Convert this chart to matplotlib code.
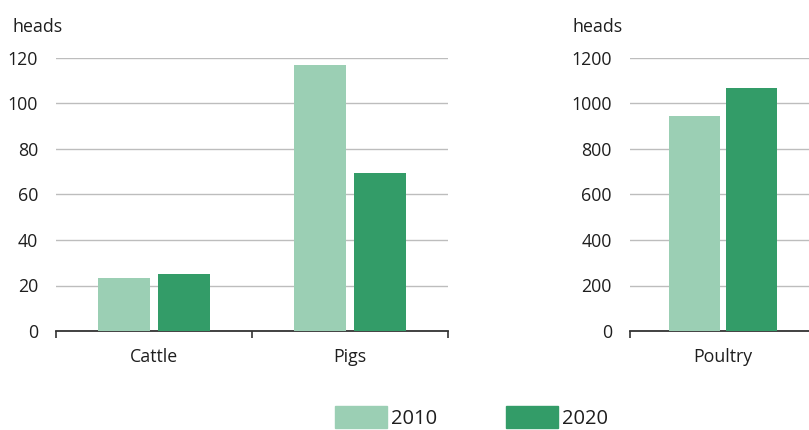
import matplotlib
matplotlib.use("Agg")
import matplotlib.pyplot as plt
from matplotlib.patches import Patch
import numpy as np

plt.rcParams['font.family'] = ['Open Sans', 'DejaVu Sans']

left_categories = ["Cattle", "Pigs"]
right_categories = ["Poultry"]
series_names = ["2010", "2020"]
left_2010 = [23.5, 116.8]
left_2020 = [25.1, 69.6]
right_2010 = [946]
right_2020 = [1067]
left_yticks = [0, 20, 40, 60, 80, 100, 120]
right_yticks = [0, 200, 400, 600, 800, 1000, 1200]

c2010 = "#9BCFB4"
c2020 = "#339C68"
grid_c = "#BDBDBD"
text_c = "#1E1E1E"

W, H = 809, 430
fig = plt.figure(figsize=(W/100, H/100), dpi=100)

def px(x0, x1, ytop, ybot):
    return [x0/W, 1-ybot/H, (x1-x0)/W, (ybot-ytop)/H]

ax1 = fig.add_axes(px(56, 448, 58, 331))
ax2 = fig.add_axes(px(630, 809, 58, 331))

bw = 0.27
off = 0.153

def style(ax, yt, ymax):
    ax.set_ylim(0, ymax)
    ax.set_yticks(yt)
    ax.set_yticklabels([str(v) for v in yt])
    ax.yaxis.grid(True, color=grid_c, linewidth=1.0)
    ax.set_axisbelow(True)
    for s in ["top", "right", "left"]:
        ax.spines[s].set_visible(False)
    ax.spines["bottom"].set_color("#333333")
    ax.spines["bottom"].set_linewidth(1.3)
    ax.tick_params(axis="y", length=0, pad=13, labelsize=12.8, labelcolor=text_c)
    ax.tick_params(axis="x", which="major", length=0, pad=12, labelsize=12.8, labelcolor=text_c)
    ax.tick_params(axis="x", which="minor", length=5, width=1.2, color="#333333")

x1 = np.arange(len(left_categories))
ax1.bar(x1 - off, left_2010, bw, color=c2010, zorder=3)
ax1.bar(x1 + off, left_2020, bw, color=c2020, zorder=3)
ax1.set_xlim(-0.5, len(left_categories) - 0.5)
ax1.set_xticks(x1)
ax1.set_xticklabels(left_categories)
ax1.set_xticks(np.arange(len(left_categories) + 1) - 0.5, minor=True)
style(ax1, left_yticks, 120)

x2 = np.arange(len(right_categories))
ax2.bar(x2 - off, right_2010, bw, color=c2010, zorder=3)
ax2.bar(x2 + off, right_2020, bw, color=c2020, zorder=3)
ax2.set_xlim(-0.5, 0.462)
ax2.set_xticks(x2)
ax2.set_xticklabels(right_categories)
ax2.set_xticks([-0.5], minor=True)
style(ax2, right_yticks, 1200)

fig.text(12/W, 1-27/H, "heads", fontsize=12.8, color=text_c, va="center", ha="left")
fig.text(572/W, 1-27/H, "heads", fontsize=12.8, color=text_c, va="center", ha="left")

handles = [Patch(color=c2010), Patch(color=c2020)]
fig.legend(handles, series_names, loc="center left", bbox_to_anchor=(335/W, 1-417.5/H),
           ncol=2, frameon=False, fontsize=14.5, handlelength=2.6, handleheight=1.25,
           handletextpad=0.2, columnspacing=3.4, borderpad=0, borderaxespad=0,
           labelcolor=text_c)

fig.savefig("out.png", dpi=100)
